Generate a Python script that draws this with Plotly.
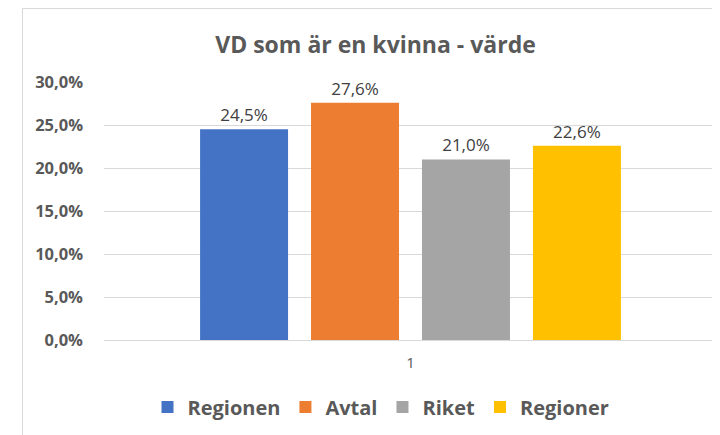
import plotly.graph_objects as go

categories = ["1"]
series_names = ["Regionen", "Avtal", "Riket", "Regioner"]
series_values = [0.245, 0.276, 0.210, 0.226]
series_colors = ["#4472C4", "#ED7D31", "#A5A5A5", "#FFC000"]
y_tick_values = [0.0, 0.05, 0.10, 0.15, 0.20, 0.25, 0.30]
title_text = "VD som är en kvinna - värde"

fig = go.Figure()
for name, val, col in zip(series_names, series_values, series_colors):
    fig.add_trace(go.Bar(
        x=categories, y=[val], name=name,
        marker=dict(color=col, line=dict(width=0)),
        texttemplate="%{y:.1%}", textposition="outside",
        textfont=dict(family="Open Sans", size=17, color="#404040"),
        cliponaxis=False, hoverinfo="skip",
    ))

# page has an 8px body margin; figure coords = screen coords - 8
OFF = 8
W, H = 712, 427
L, T = 104 - OFF, 82 - OFF
R = W - (717 - OFF)
B = H - (340 - OFF)
pw = W - L - R
ph = H - T - B

def px_x(sx):
    return (sx - OFF - L) / pw

def px_y(sy):
    return (H - B - (sy - OFF)) / ph

fig.update_layout(
    width=W, height=H,
    margin=dict(l=L, r=R, t=T, b=B, pad=0),
    paper_bgcolor="white", plot_bgcolor="white",
    separators=", ",
    barmode="group", bargap=0.276, bargroupgap=0.207,
    title=dict(text=title_text, x=(375.5 - OFF) / W, xanchor="center",
               y=1 - (45 - OFF) / H, yanchor="middle", yref="container",
               font=dict(family="Open Sans", size=23, color="#595959", weight="bold")),
    showlegend=True,
    legend=dict(orientation="h", x=px_x(381), xanchor="center",
                y=px_y(407), yanchor="middle",
                font=dict(family="Open Sans", size=20, color="#595959", weight="bold"),
                itemclick=False, itemdoubleclick=False),
    yaxis=dict(range=[0, 0.3001], tickvals=y_tick_values, tickformat=".1%",
               showgrid=True, gridcolor="#D9D9D9", gridwidth=1,
               zeroline=True, zerolinecolor="#D9D9D9", zerolinewidth=1,
               showline=False, ticks="", ticklabelstandoff=20,
               tickfont=dict(family="Open Sans", size=16.5, color="#595959", weight="bold")),
    xaxis=dict(showgrid=False, showline=False, ticks="", ticklabelstandoff=12,
               tickfont=dict(family="Open Sans", size=15, color="#595959")),
    shapes=[dict(type="rect", xref="paper", yref="paper",
                 x0=px_x(22.5), x1=px_x(780),
                 y0=px_y(480), y1=px_y(8.5),
                 line=dict(color="#D9D9D9", width=1), fillcolor="rgba(0,0,0,0)",
                 layer="below")],
)

fig.write_html("out.html")
